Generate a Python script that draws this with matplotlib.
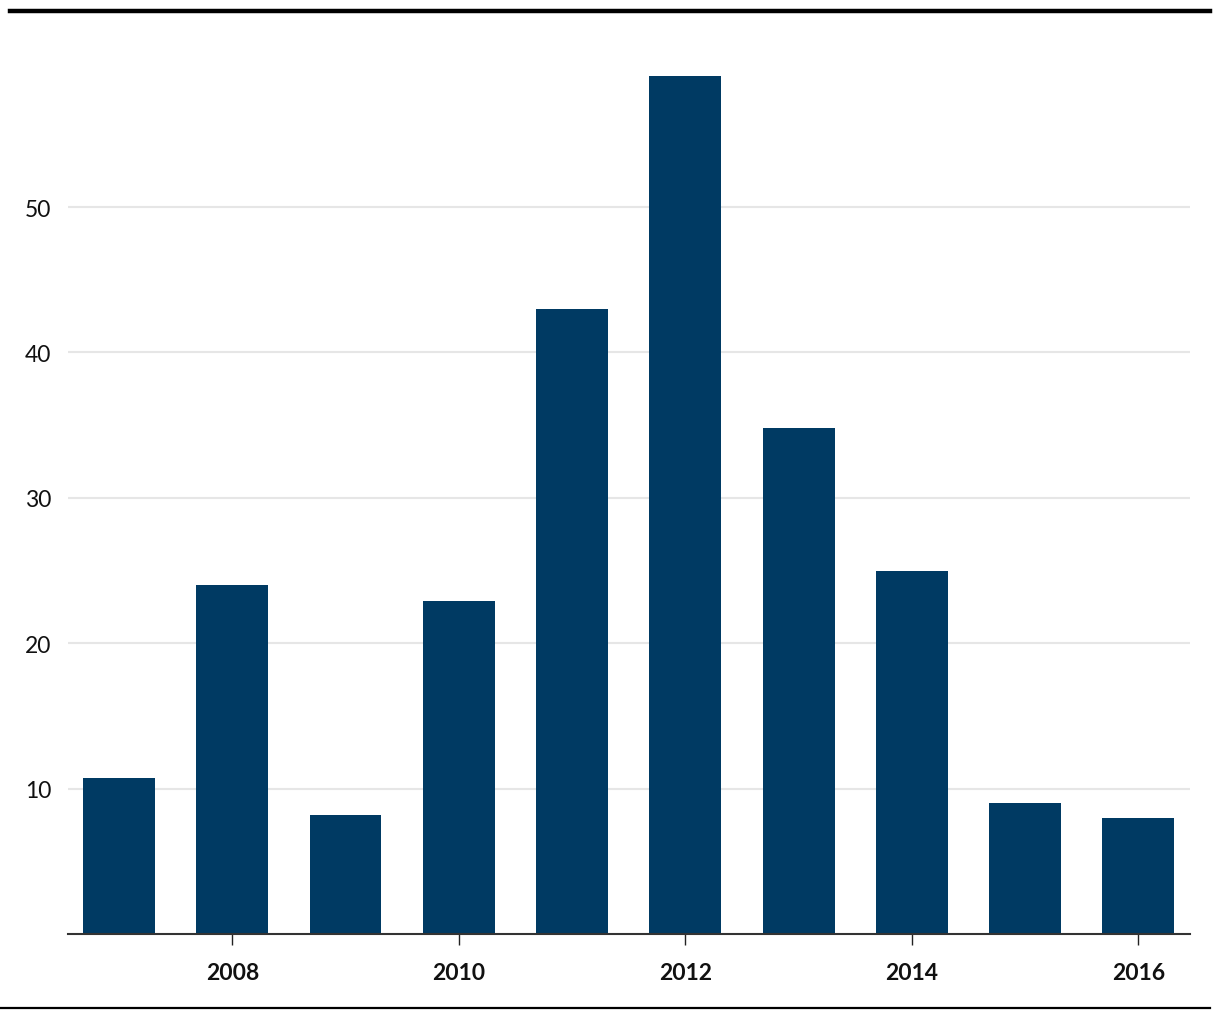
import matplotlib
matplotlib.use("Agg")
import matplotlib.pyplot as plt
from matplotlib.lines import Line2D

# Data
years = [2007, 2008, 2009, 2010, 2011, 2012, 2013, 2014, 2015, 2016]
values = [10.75, 24.0, 8.2, 22.9, 43.0, 59.0, 34.8, 25.0, 9.0, 8.0]
y_ticks = [10, 20, 30, 40, 50]
x_ticks = [2008, 2010, 2012, 2014, 2016]

plt.rcParams['font.family'] = ['Lato', 'DejaVu Sans']

fig = plt.figure(figsize=(12.2, 10.2), dpi=100)
W, H = 1220, 1020
ax = fig.add_axes([68 / W, 1 - 935 / H, (1190 - 68) / W, (935 - 41) / H])

ax.bar(years, values, width=0.635, color='#003A63', zorder=3)

ax.set_xlim(2006.55, 2016.455)
ax.set_ylim(0, (935 - 41) / 14.54)

ax.set_yticks(y_ticks)
ax.set_yticklabels([str(v) for v in y_ticks], fontsize=16.5, color='#111111')
ax.set_xticks(x_ticks)
ax.set_xticklabels([str(v) for v in x_ticks], fontsize=16.5, fontweight='bold', color='#111111')

ax.grid(axis='y', color='#e6e6e6', linewidth=1.5, zorder=0)
for s in ['top', 'right', 'left']:
    ax.spines[s].set_visible(False)
ax.spines['bottom'].set_color('#333333')
ax.spines['bottom'].set_linewidth(1.5)
ax.spines['bottom'].set_zorder(4)

ax.tick_params(axis='y', length=0, pad=12)
ax.tick_params(axis='x', length=8, width=1, color='#222222', pad=12)

# Top and bottom rules
fig.add_artist(Line2D([10 / W, 1210 / W], [1 - 12 / H, 1 - 12 / H], color='black', linewidth=3.2))
fig.add_artist(Line2D([0, 1210 / W], [1 - 1009 / H, 1 - 1009 / H], color='black', linewidth=1.6))

fig.savefig('out.png', dpi=100)
